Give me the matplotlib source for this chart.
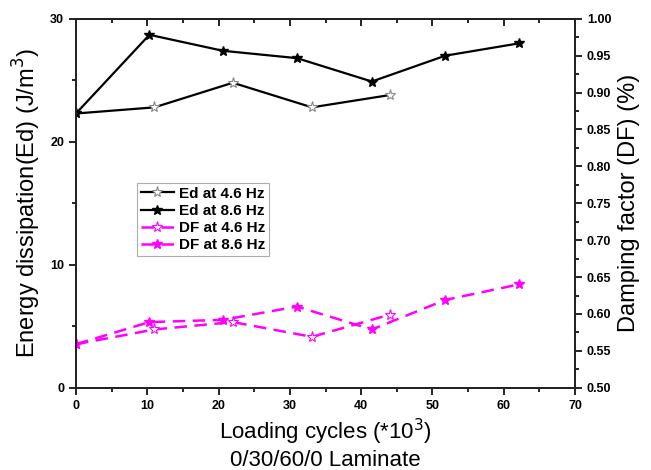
import numpy as np
import matplotlib.pyplot as plt
from matplotlib.ticker import MultipleLocator

plt.rcParams['font.family'] = ['Liberation Sans', 'DejaVu Sans']

# Energy dissipation (J/m^3)
cycles_46 = [0, 11.0, 22.0, 33.1, 44.0]
ed_46 = [22.3, 22.8, 24.8, 22.8, 23.8]
cycles_86 = [0, 10.3, 20.6, 31.0, 41.5, 51.8, 62.1]
ed_86 = [22.3, 28.7, 27.4, 26.8, 24.9, 27.0, 28.0]

# Damping factor (%)
df_46 = [0.559, 0.579, 0.589, 0.569, 0.599]
df_86 = [0.559, 0.589, 0.592, 0.610, 0.579, 0.619, 0.640]

fig = plt.figure(figsize=(6.51, 4.70), dpi=100)
ax = fig.add_axes([0.1167, 0.175, 0.7666, 0.785])
ax2 = ax.twinx()

l1, = ax.plot(cycles_46, ed_46, '-', color='black', lw=1.6, marker='*', ms=8,
              mfc='white', mec='#888888', mew=0.8, label='Ed at 4.6 Hz')
l2, = ax.plot(cycles_86, ed_86, '-', color='black', lw=1.6, marker='*', ms=7,
              mfc='black', mec='black', label='Ed at 8.6 Hz')
l3, = ax2.plot(cycles_46, df_46, '--', color='#ff00ff', lw=1.8, dashes=(5, 3), marker='*',
               ms=8, mfc='white', mec='#ff00ff', mew=0.8, label='DF at 4.6 Hz')
l4, = ax2.plot(cycles_86, df_86, '--', color='#ff00ff', lw=1.8, dashes=(5, 3), marker='*',
               ms=7, mfc='#ff00ff', mec='#ff00ff', label='DF at 8.6 Hz')

ax.set_xlim(0, 70)
ax.set_ylim(0, 30)
ax2.set_ylim(0.5, 1.0)

ax.xaxis.set_major_locator(MultipleLocator(10))
ax.xaxis.set_minor_locator(MultipleLocator(5))
ax.yaxis.set_major_locator(MultipleLocator(10))
ax.yaxis.set_minor_locator(MultipleLocator(5))
ax2.yaxis.set_major_locator(MultipleLocator(0.05))
ax2.yaxis.set_minor_locator(MultipleLocator(0.025))
ax2.yaxis.set_major_formatter(plt.FormatStrFormatter('%.2f'))

for a in (ax, ax2):
    for s in a.spines.values():
        s.set_linewidth(1.3)
        s.set_color('#222222')

# top axis: ticks pointing inward, no labels
top = ax.secondary_xaxis('top')
top.xaxis.set_major_locator(MultipleLocator(10))
top.xaxis.set_minor_locator(MultipleLocator(5))
top.tick_params(which='both', direction='in', labeltop=False, width=1.2)
top.tick_params(which='major', length=5)
top.tick_params(which='minor', length=3)
top.spines['top'].set_linewidth(1.3)

ax.tick_params(axis='x', which='major', direction='out', length=5, width=1.2, labelsize=9)
ax.tick_params(axis='x', which='minor', direction='out', length=3, width=1.2)
ax.tick_params(axis='y', which='major', direction='out', length=5, width=1.2, labelsize=9)
ax.tick_params(axis='y', which='minor', direction='out', length=3, width=1.2)
ax2.tick_params(axis='y', which='major', direction='out', length=5, width=1.2, labelsize=9)
ax2.tick_params(axis='y', which='minor', direction='out', length=3, width=1.2)
for lab in ax.get_xticklabels() + ax.get_yticklabels() + ax2.get_yticklabels():
    lab.set_fontweight('bold')

ax.set_xlabel('Loading cycles (*10$^3$)\n0/30/60/0 Laminate', fontsize=16, labelpad=4,
              linespacing=1.15)
ax.set_ylabel('Energy dissipation(Ed) (J/m$^3$)', fontsize=17, labelpad=5)
ax2.set_ylabel('Damping factor (DF) (%)', fontsize=17, labelpad=5)

leg = ax.legend(handles=[l1, l2, l3, l4], loc='upper left', bbox_to_anchor=(0.122, 0.555),
                prop={'weight': 'bold', 'size': 11}, frameon=True, fancybox=False,
                handlelength=2.2, borderpad=0.25, labelspacing=0.2, handletextpad=0.3,
                borderaxespad=0)
leg.get_frame().set_edgecolor('#999999')
leg.get_frame().set_linewidth(0.8)

fig.savefig('out.png', dpi=100)
